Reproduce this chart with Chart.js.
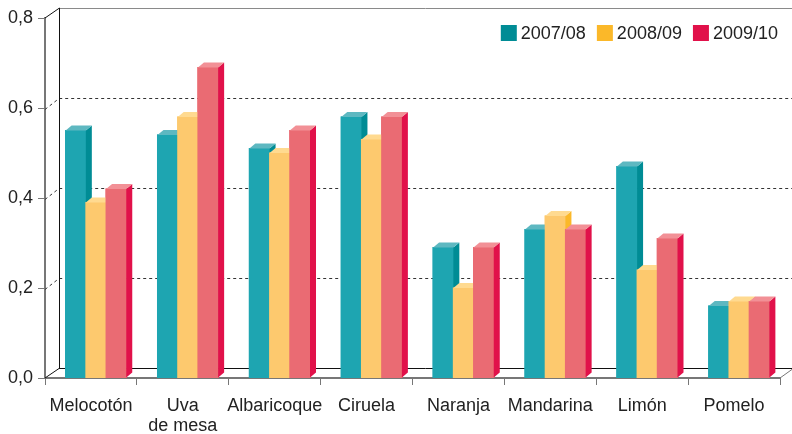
<!DOCTYPE html>
<html><head><meta charset="utf-8">
<script src="https://cdn.jsdelivr.net/npm/chart.js@4/dist/chart.umd.min.js"></script>
<style>html,body{margin:0;padding:0;background:#fff}#wrap{width:792px;height:434px}</style>
</head><body><div id="wrap"><canvas id="c" width="792" height="434"></canvas></div>
<script>
const categories = ['Melocotón', ['Uva', 'de mesa'], 'Albaricoque', 'Ciruela', 'Naranja', 'Mandarina', 'Limón', 'Pomelo'];
const seriesLabels = ['2007/08', '2008/09', '2009/10'];
const s2007 = [0.55, 0.54, 0.51, 0.58, 0.29, 0.33, 0.47, 0.16];
const s2008 = [0.39, 0.58, 0.50, 0.53, 0.20, 0.36, 0.24, 0.17];
const s2009 = [0.42, 0.69, 0.55, 0.58, 0.29, 0.33, 0.31, 0.17];
const yTicks = [0, 0.2, 0.4, 0.6, 0.8];

const FONT = '"Liberation Sans", Arial, sans-serif';
const frontColors = ['#1EA5B1', '#FDC96E', '#EA6B73'];
const sideColors = ['#008C95', '#FBB829', '#E1114A'];
const topColors = ['#5EB8C1', '#FFDA90', '#F29096'];
const DEPTH_BACK = {dx: 14, dy: 10};
const DEPTH_BAR = {dx: 6, dy: 5};
const BAR_SHIFT = 5;

const backWall = {
  id: 'backWall',
  beforeDatasetsDraw(chart) {
    const ctx = chart.ctx, a = chart.chartArea, ys = chart.scales.y;
    const L = a.left, R = a.right, T = a.top, B = a.bottom, W = chart.width;
    const dx = DEPTH_BACK.dx, dy = DEPTH_BACK.dy;
    ctx.save();
    ctx.lineWidth = 1;
    ctx.strokeStyle = '#333';
    ctx.setLineDash([3, 3]);
    yTicks.forEach(v => {
      if (v === ys.min || v === ys.max) return;
      const y = Math.round(ys.getPixelForValue(v)) + 0.5;
      ctx.beginPath();
      ctx.moveTo(L, y + 1);
      ctx.lineTo(L + dx, y - dy);
      ctx.lineTo(W, y - dy);
      ctx.stroke();
    });
    ctx.setLineDash([]);
    ctx.strokeStyle = '#8a8a8a';
    ctx.beginPath();
    ctx.moveTo(L + dx, T - dy + 0.5);
    ctx.lineTo(W, T - dy + 0.5);
    ctx.stroke();
    ctx.strokeStyle = '#111';
    ctx.beginPath();
    ctx.moveTo(L, T); ctx.lineTo(L + dx + 0.5, T - dy);
    ctx.moveTo(L + dx + 0.5, T - dy); ctx.lineTo(L + dx + 0.5, B - dy);
    ctx.moveTo(L, B); ctx.lineTo(L + dx, B - dy + 0.5);
    ctx.moveTo(L + dx, B - dy + 0.5); ctx.lineTo(W, B - dy + 0.5);
    ctx.stroke();
    ctx.strokeStyle = '#777';
    ctx.beginPath();
    ctx.moveTo(R, B); ctx.lineTo(R + dx, B - dy);
    ctx.stroke();
    ctx.restore();
    ctx.save();
    ctx.translate(BAR_SHIFT, 0);
  },
  afterDatasetsDraw(chart) {
    // redraw bars category by category, left to right, adding the 3D faces
    const ctx = chart.ctx;
    const dx = DEPTH_BAR.dx, dy = DEPTH_BAR.dy;
    const metas = chart.data.datasets.map((d, i) => chart.getDatasetMeta(i));
    const n = chart.data.labels.length;
    for (let j = 0; j < n; j++) {
      metas.forEach((meta, i) => {
        const bar = meta.data[j];
        bar.draw(ctx, chart.chartArea);
        const p = bar.getProps(['x', 'y', 'base', 'width'], true);
        const xl = p.x - p.width / 2, xr = p.x + p.width / 2;
        ctx.fillStyle = sideColors[i];
        ctx.beginPath();
        ctx.moveTo(xr, p.y); ctx.lineTo(xr + dx, p.y - dy);
        ctx.lineTo(xr + dx, p.base - dy); ctx.lineTo(xr, p.base);
        ctx.closePath(); ctx.fill();
        ctx.fillStyle = topColors[i];
        ctx.beginPath();
        ctx.moveTo(xl, p.y); ctx.lineTo(xl + dx, p.y - dy);
        ctx.lineTo(xr + dx, p.y - dy); ctx.lineTo(xr, p.y);
        ctx.closePath(); ctx.fill();
      });
    }
    ctx.restore();
  },
  afterDraw(chart) {
    const ctx = chart.ctx;
    ctx.save();
    ctx.font = '18px ' + FONT;
    ctx.textBaseline = 'middle';
    let right = 778;
    const yMid = 33;
    for (let i = seriesLabels.length - 1; i >= 0; i--) {
      const w = ctx.measureText(seriesLabels[i]).width;
      const tx = right - w;
      ctx.fillStyle = '#222';
      ctx.fillText(seriesLabels[i], tx, yMid + 1);
      ctx.fillStyle = sideColors[i];
      ctx.fillRect(tx - 20, yMid - 8, 16, 16);
      right = tx - 20 - 11;
    }
    ctx.restore();
  }
};

new Chart(document.getElementById('c'), {
  type: 'bar',
  data: {
    labels: categories,
    datasets: [
      {label: seriesLabels[0], data: s2007, backgroundColor: frontColors[0]},
      {label: seriesLabels[1], data: s2008, backgroundColor: frontColors[1]},
      {label: seriesLabels[2], data: s2009, backgroundColor: frontColors[2]}
    ]
  },
  options: {
    responsive: false,
    animation: false,
    devicePixelRatio: 1,
    layout: {padding: {top: 18, right: 12, left: 0, bottom: 0}},
    datasets: {bar: {categoryPercentage: 0.66, barPercentage: 1, borderWidth: 0, inflateAmount: 0.5}},
    plugins: {legend: {display: false}, tooltip: {enabled: false}},
    scales: {
      x: {
        grid: {display: true, drawOnChartArea: false, drawTicks: true, tickLength: 7, color: '#777', offset: true},
        border: {color: '#777', width: 2},
        ticks: {font: {size: 18, family: FONT, lineHeight: 1.1}, color: '#222', padding: 11, maxRotation: 0, autoSkip: false},
        afterFit(s) { s.height = 56; }
      },
      y: {
        min: 0, max: 0.8,
        afterBuildTicks(s) { s.ticks = yTicks.map(v => ({value: v})); },
        grid: {display: true, drawOnChartArea: false, drawTicks: true, tickLength: 7, color: '#777'},
        border: {color: '#777', width: 2},
        ticks: {font: {size: 18, family: FONT}, color: '#222', padding: 5,
          callback: v => v.toFixed(1).replace('.', ',')},
        afterFit(s) { s.width = 45; }
      }
    }
  },
  plugins: [backWall]
});
</script>
</body></html>
